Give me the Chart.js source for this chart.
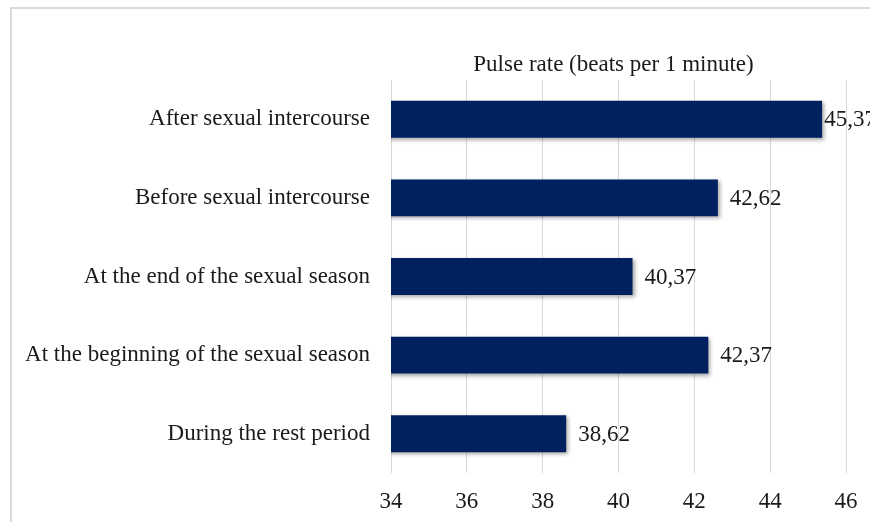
<!DOCTYPE html>
<html>
<head>
<meta charset="utf-8">
<script src="https://cdn.jsdelivr.net/npm/chart.js@4/dist/chart.umd.min.js"></script>
<style>
  html, body { margin: 0; padding: 0; background: #ffffff; }
  #wrap { width: 870px; height: 522px; position: relative; }
</style>
</head>
<body>
<div id="wrap"><canvas id="c" width="870" height="522"></canvas></div>
<script>
const categories = [
  "After sexual intercourse",
  "Before sexual intercourse",
  "At the end of the sexual season",
  "At the beginning of the sexual season",
  "During the rest period"
];
const pulseRate = [45.37, 42.62, 40.37, 42.37, 38.62];
const valueLabels = ["45,37", "42,62", "40,37", "42,37", "38,62"];
const titleText = "Pulse rate (beats per 1 minute)";
const xMin = 34, xMax = 46, xStep = 2;

const FONT = "'Liberation Serif', 'Times New Roman', serif";
const TEXT = "#1a1a1a";

const frame = {
  id: "frame",
  beforeDraw(chart) {
    const ctx = chart.ctx;
    ctx.save();
    ctx.fillStyle = "#ffffff";
    ctx.fillRect(0, 0, chart.width, chart.height);
    ctx.strokeStyle = "#d9d9d9";
    ctx.lineWidth = 2;
    ctx.beginPath();
    ctx.moveTo(11, chart.height);
    ctx.lineTo(11, 8);
    ctx.lineTo(chart.width, 8);
    ctx.stroke();
    ctx.restore();
  },
  afterDraw(chart) {
    const ctx = chart.ctx;
    const a = chart.chartArea;
    ctx.save();
    ctx.font = "23px " + FONT;
    ctx.fillStyle = TEXT;
    ctx.textAlign = "center";
    ctx.textBaseline = "middle";
    ctx.fillText(titleText, (a.left + a.right) / 2 - 5, 65);
    ctx.restore();
  }
};

const shadow = {
  id: "shadow",
  beforeDatasetDraw(chart) {
    const ctx = chart.ctx;
    ctx.save();
    ctx.shadowColor = "rgba(0,0,0,0.35)";
    ctx.shadowBlur = 4;
    ctx.shadowOffsetX = 2;
    ctx.shadowOffsetY = 2;
  },
  afterDatasetDraw(chart) {
    chart.ctx.restore();
  }
};

const labels = {
  id: "valueLabels",
  afterDatasetsDraw(chart) {
    const ctx = chart.ctx;
    const meta = chart.getDatasetMeta(0);
    ctx.save();
    ctx.font = "23px " + FONT;
    ctx.fillStyle = TEXT;
    ctx.textAlign = "left";
    ctx.textBaseline = "middle";
    meta.data.forEach((bar, i) => {
      const t = valueLabels[i];
      const w = ctx.measureText(t).width;
      let x = bar.x + 12;
      const limit = chart.width + 6;
      if (x + w > limit) x = Math.max(bar.x + 1, limit - w);
      ctx.fillText(t, x, bar.y + 1);
    });
    ctx.restore();
  }
};

new Chart(document.getElementById("c"), {
  type: "bar",
  data: {
    labels: categories,
    datasets: [{
      data: pulseRate,
      backgroundColor: "#00205f",
      borderWidth: 0,
      barPercentage: 0.47,
      categoryPercentage: 1.0
    }]
  },
  plugins: [frame, shadow, labels],
  options: {
    indexAxis: "y",
    responsive: false,
    animation: false,
    devicePixelRatio: 1,
    layout: { padding: { left: 0, right: 24, top: 80, bottom: 0 } },
    plugins: {
      legend: { display: false },
      title: { display: false },
      tooltip: { enabled: false }
    },
    scales: {
      x: {
        type: "linear",
        min: xMin,
        max: xMax,
        ticks: {
          stepSize: xStep,
          color: TEXT,
          font: { family: FONT, size: 23 },
          padding: 15
        },
        grid: { color: "#d9d9d9", lineWidth: 1, drawTicks: false },
        border: { display: false },
        afterFit(scale) {
          scale.height = 49;
          scale.paddingLeft = 0;
          scale.paddingRight = 0;
        }
      },
      y: {
        ticks: {
          color: TEXT,
          font: { family: FONT, size: 23 },
          padding: 21
        },
        grid: { display: false, drawTicks: false },
        border: { display: false },
        afterFit(scale) { scale.width = 391; }
      }
    }
  }
});
</script>
</body>
</html>
